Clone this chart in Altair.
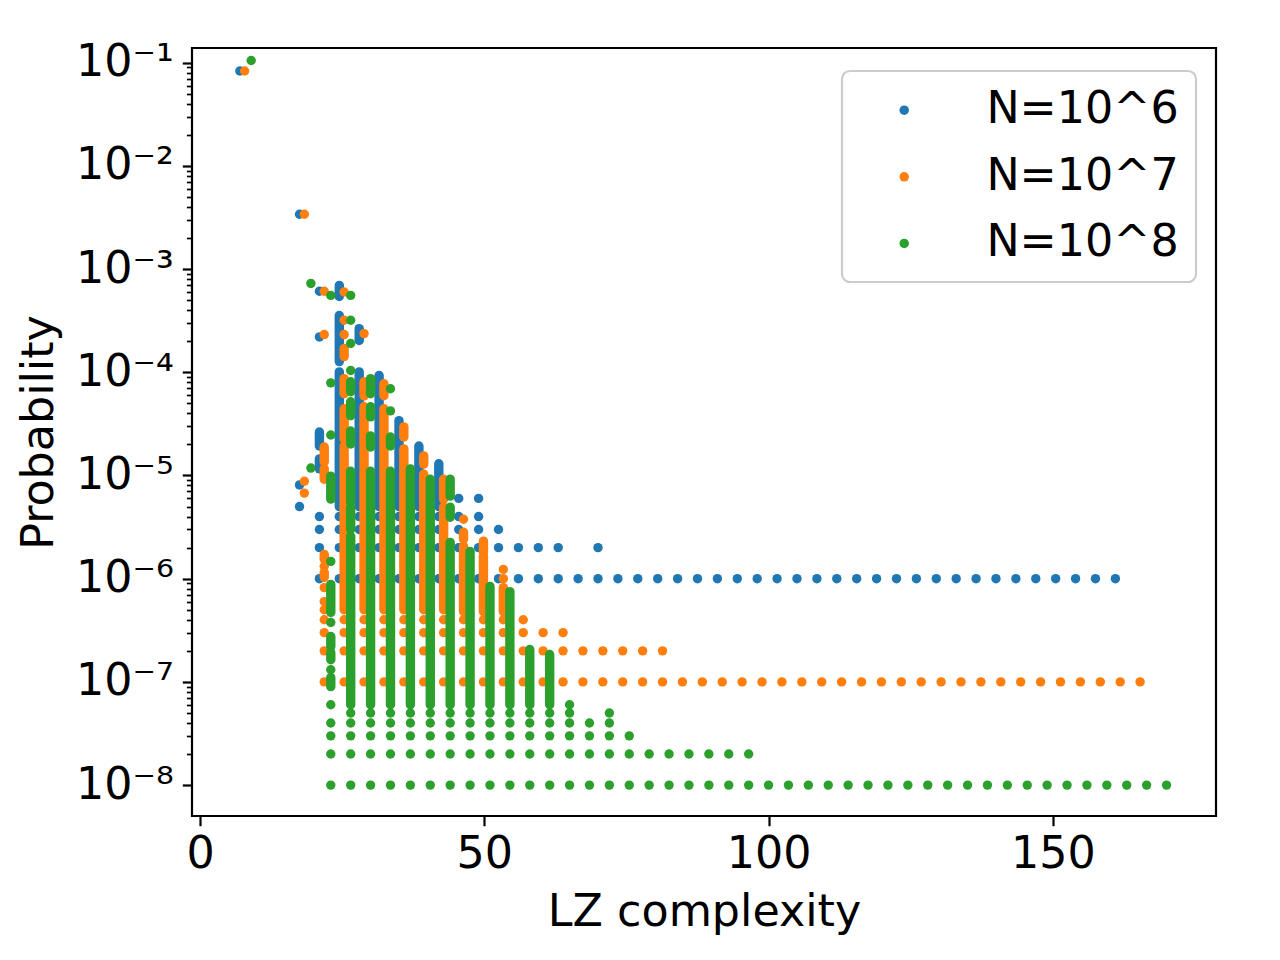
import altair as alt
import pandas as pd

SERIES = ["N=10^6", "N=10^7", "N=10^8"]
COLORS = ["#1f77b4", "#ff7f0e", "#2ca02c"]
LZ_SHIFT = [0.0, 0.85, 2.0]

LZ_GRID = [7.0, 10.5, 14.0, 17.5, 21.0, 24.5, 28.0, 31.5, 35.0, 38.5, 42.0, 45.5,
           49.0, 52.5, 56.0, 59.5, 63.0, 66.5, 70.0, 73.5, 77.0, 80.5, 84.0, 87.5,
           91.0, 94.5, 98.0, 101.5, 105.0, 108.5, 112.0, 115.5, 119.0, 122.5, 126.0,
           129.5, 133.0, 136.5, 140.0, 143.5, 147.0, 150.5, 154.0, 157.5, 161.0,
           164.5, 168.0]

# ---- N=10^6 (blue) ----
BLUE_DOTS = [(7, 8.3e-2), (17.5, 3.4e-3), (17.5, 8.1e-6), (17.5, 5.0e-6),
             (21, 6.1e-4), (21, 2.2e-4)]
BLUE_ROWS = [(1e-6, 21, 161), (2e-6, 21, 63), (2e-6, 70, 70), (3e-6, 21, 52.5),
             (4e-6, 21, 49), (6e-6, 45.5, 49)]
BLUE_BARS = [(21, 2.64e-5, 1.93e-5), (21, 1.45e-5, 1.16e-5),
             (24.5, 6.95e-4, 5.43e-4), (24.5, 3.55e-4, 1.27e-4), (24.5, 1.01e-4, 5.0e-6),
             (28, 2.65e-4, 2.03e-4), (28, 1.01e-4, 5.0e-6),
             (31.5, 9.3e-5, 5.0e-6), (35, 3.4e-5, 5.0e-6),
             (38.5, 1.93e-5, 5.0e-6), (42, 1.3e-5, 5.0e-6)]

# ---- N=10^7 (orange) ----
ORANGE_DOTS = [(7, 8.3e-2), (17.5, 3.4e-3), (17.5, 8.8e-6), (17.5, 6.75e-6),
               (21, 6.1e-4), (21, 2.32e-4), (21, 1.32e-6), (21, 8.2e-7), (21, 6e-7),
               (21, 5e-7), (24.5, 6.0e-4), (24.5, 3.19e-4), (24.5, 2.32e-4),
               (28, 2.37e-4), (45.5, 3.77e-6), (52.5, 1.23e-6), (52.5, 1e-6)]
ORANGE_ROWS = [(1e-7, 21, 164.5), (2e-7, 21, 80.5), (3e-7, 21, 63), (4e-7, 21, 56)]
ORANGE_BARS = [(21, 1.89e-5, 1.35e-5), (21, 1.16e-5, 9.2e-6), (21, 1.72e-6, 1.54e-6),
               (21, 1.15e-6, 1.03e-6),
               (24.5, 1.70e-4, 1.42e-4), (24.5, 8.67e-5, 6.19e-5), (24.5, 4.43e-5, 2.26e-5),
               (24.5, 1.93e-5, 5e-7),
               (28, 8.1e-5, 5.9e-5), (28, 4.63e-5, 5e-7),
               (31.5, 7.74e-5, 5.92e-5), (31.5, 4.43e-5, 5e-7),
               (35, 2.96e-5, 2.36e-5), (35, 1.81e-5, 5e-7),
               (38.5, 1.55e-5, 1.29e-5), (38.5, 1.03e-5, 5e-7),
               (42, 9.2e-6, 5.9e-6), (42, 4.93e-6, 5e-7),
               (45.5, 2.82e-6, 2.41e-6), (45.5, 2.06e-6, 4.8e-7),
               (49, 2.31e-6, 1.80e-6), (49, 1.65e-6, 4.8e-7),
               (52.5, 8.2e-7, 4.8e-7)]

# ---- N=10^8 (green) ----
GREEN_DOTS = [(7, 0.105), (17.5, 7.26e-4), (17.5, 1.18e-5), (21, 5.56e-4), (21, 7.9e-5),
              (21, 2.47e-5), (21, 1.47e-6), (21, 3.76e-7), (21, 1.31e-7),
              (24.5, 5.56e-4), (24.5, 3.19e-4), (24.5, 1.90e-4), (24.5, 1.04e-4),
              (31.5, 6.92e-5), (31.5, 4.23e-5)]
GREEN_ROWS = [(1e-8, 21, 168), (2e-8, 21, 94.5), (3e-8, 21, 73.5), (4e-8, 21, 70),
              (5e-8, 24.5, 63), (5e-8, 70, 70), (6e-8, 21, 21), (6e-8, 63, 63)]
GREEN_BARS = [(21, 9.87e-6, 5.9e-6), (21, 8.81e-7, 4.7e-7), (21, 2.75e-7, 2.2e-7),
              (21, 1.92e-7, 1.64e-7), (21, 1.10e-7, 9.0e-8),
              (24.5, 8.1e-5, 6.47e-5), (24.5, 5.18e-5, 3.79e-5), (24.5, 2.70e-5, 2.02e-5),
              (24.5, 1.10e-5, 5.52e-6), (24.5, 4.93e-6, 3.01e-6), (24.5, 2.58e-6, 6e-8),
              (28, 8.67e-5, 6.19e-5), (28, 4.63e-5, 3.70e-5), (28, 2.42e-5, 1.89e-5),
              (28, 1.10e-5, 6e-8),
              (31.5, 2.36e-5, 1.93e-5), (31.5, 1.10e-5, 6e-8),
              (35, 1.16e-5, 6e-8), (38.5, 9.2e-6, 6e-8),
              (42, 9.23e-6, 6.31e-6), (42, 4.93e-6, 3.94e-6), (42, 2.25e-6, 6e-8),
              (45.5, 1.84e-6, 6e-8), (49, 8.42e-7, 6e-8), (52.5, 7.5e-7, 6e-8),
              (56, 2.06e-7, 6e-8), (59.5, 1.84e-7, 6e-8)]

ALL_DOTS = [BLUE_DOTS, ORANGE_DOTS, GREEN_DOTS]
ALL_ROWS = [BLUE_ROWS, ORANGE_ROWS, GREEN_ROWS]
ALL_BARS = [BLUE_BARS, ORANGE_BARS, GREEN_BARS]

MAJOR_TICKS = [1e-8, 1e-7, 1e-6, 1e-5, 1e-4, 1e-3, 1e-2, 1e-1]
SUPERS = {-1: "⁻¹", -2: "⁻²", -3: "⁻³", -4: "⁻⁴", -5: "⁻⁵", -6: "⁻⁶", -7: "⁻⁷", -8: "⁻⁸"}
X_TICKS = [0, 50, 100, 150]

recs = []
for si, name in enumerate(SERIES):
    sh = LZ_SHIFT[si]
    for lz, p in ALL_DOTS[si]:
        recs.append(dict(series=name, kind="dot", lz=lz + sh, p=p, p2=p))
    for p, a, b in ALL_ROWS[si]:
        for lz in LZ_GRID:
            if a <= lz <= b:
                recs.append(dict(series=name, kind="dot", lz=lz + sh, p=p, p2=p))
    for lz, hi, lo in ALL_BARS[si]:
        recs.append(dict(series=name, kind="bar", lz=lz + sh, p=hi, p2=lo))
df = pd.DataFrame(recs)

FONT = "DejaVu Sans"
FS = 44.4
MAJOR_TEST = "abs(log(datum.value)/LN10 - round(log(datum.value)/LN10)) < 0.001"
E = "round(log(datum.value)/LN10)"
expr = "''"
for e, s in SUPERS.items():
    expr = f"({E} == {e}) ? '10{s}' : ({expr})"
label_expr = f"({MAJOR_TEST}) ? ({expr}) : ''"

minor = []
for m in MAJOR_TICKS[:-1]:
    for k in range(2, 10):
        minor.append(m * k)
y_values = MAJOR_TICKS + minor

x_enc = alt.X("lz:Q",
              scale=alt.Scale(domain=[-1.41, 178.7], nice=False, zero=False),
              axis=alt.Axis(values=X_TICKS, title="LZ complexity", grid=False, domain=False,
                            tickSize=9.7, tickWidth=2.2, tickColor="black",
                            labelFont=FONT, labelFontSize=FS, labelColor="black",
                            labelPadding=7, labelFlush=False,
                            titleFont=FONT, titleFontSize=FS, titleFontWeight="normal",
                            titleColor="black", titlePadding=14))
y_enc = alt.Y("p:Q",
              scale=alt.Scale(type="log", domain=[5.02e-9, 0.1387], nice=False),
              axis=alt.Axis(values=y_values, labelExpr=label_expr, title="Probability",
                            grid=False, domain=False,
                            tickSize={"condition": {"test": MAJOR_TEST, "value": 9.7}, "value": 5.6},
                            tickWidth={"condition": {"test": MAJOR_TEST, "value": 2.2}, "value": 1.7},
                            tickColor="black", labelOverlap=False,
                            labelFont=FONT, labelFontSize=FS, labelColor="black",
                            labelPadding=9, labelFlush=False,
                            titleFont=FONT, titleFontSize=FS, titleFontWeight="normal",
                            titleColor="black", titlePadding=14))

color_enc = alt.Color("series:N",
                      scale=alt.Scale(domain=SERIES, range=COLORS),
                      legend=alt.Legend(title=None, orient="none", legendX=650, legendY=23,
                                        labelFont=FONT, labelFontSize=FS, labelColor="black",
                                        labelLimit=400,
                                        symbolType="circle", symbolSize=90,
                                        symbolStrokeWidth=0, symbolOffset=23,
                                        labelOffset=60, rowPadding=21.6))

DIAM = 9.4
layers = []
base = alt.Chart(df)
for si, name in enumerate(SERIES):
    bars = base.transform_filter(
        (alt.datum.series == name) & (alt.datum.kind == "bar")
    ).mark_rule(strokeCap="round", strokeWidth=DIAM, color=COLORS[si], opacity=1).encode(
        x=x_enc, y=y_enc, y2="p2:Q")
    dots = base.transform_filter(
        (alt.datum.series == name) & (alt.datum.kind == "dot")
    ).mark_circle(size=DIAM * DIAM, opacity=1).encode(
        x=x_enc, y=y_enc, color=color_enc)
    layers += [bars, dots]

chart = alt.layer(*layers).properties(
    width=1024, height=768,
    autosize=alt.AutoSizeParams(type="none"),
    padding={"left": 184, "top": 40, "right": 48, "bottom": 128},
    background="white",
).configure_view(stroke="black", strokeWidth=2.2).configure_legend(
    strokeColor="#cccccc", strokeWidth=2.2, cornerRadius=8,
    fillColor="rgba(255,255,255,0.8)", padding=17)

chart.save("out.html", embed_options={"renderer": "svg", "actions": False})
